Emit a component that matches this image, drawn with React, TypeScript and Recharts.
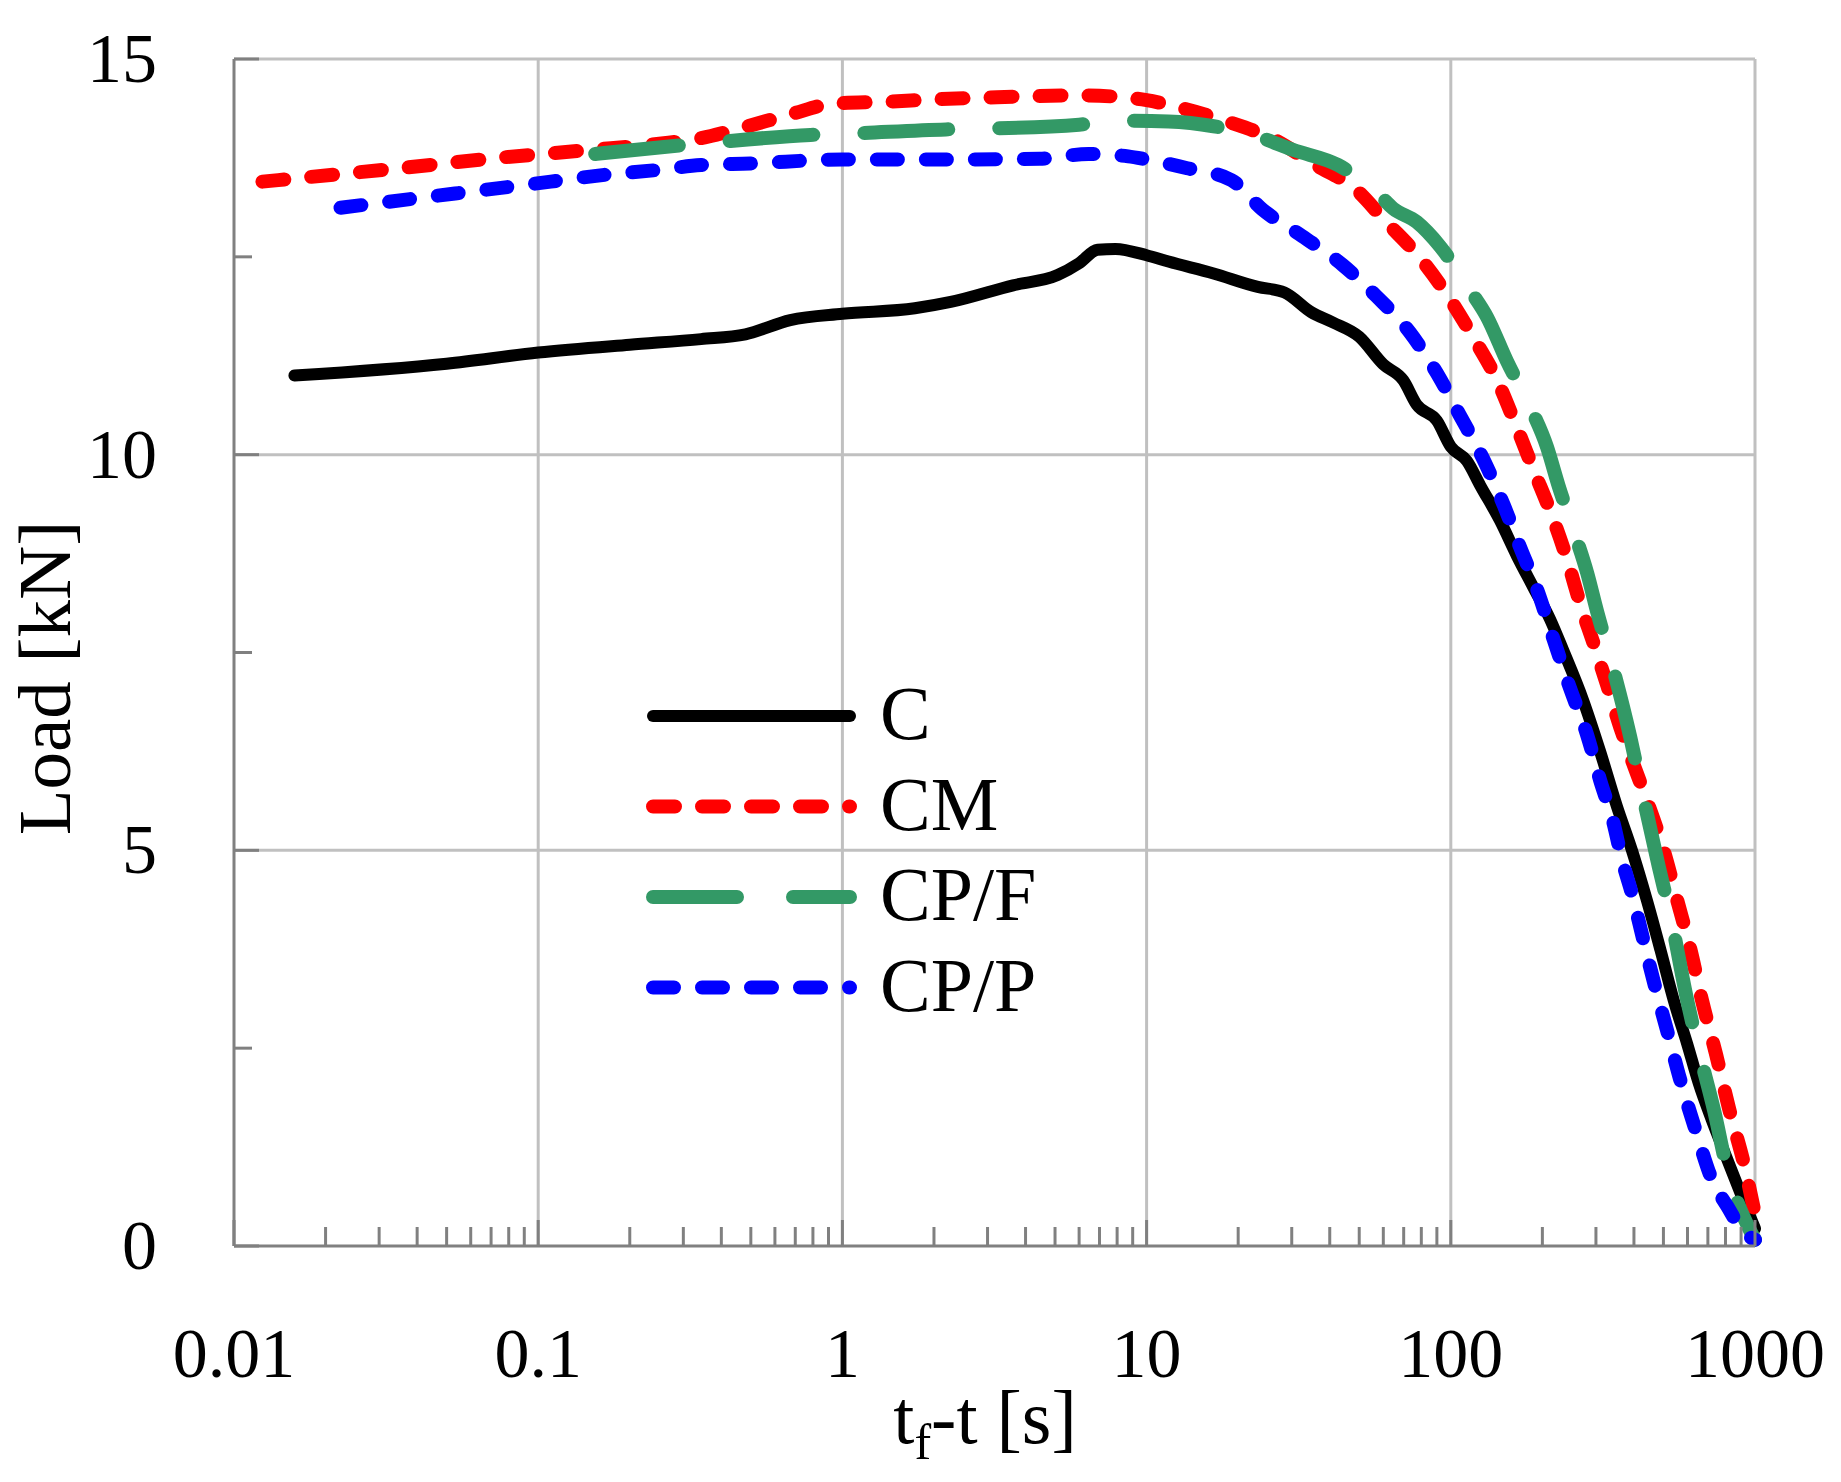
import React from 'react';
import { LineChart, Line, XAxis, YAxis, ReferenceLine, Legend } from 'recharts';

const FONT = '"Liberation Serif", "DejaVu Serif", serif';
const AXIS_GRAY = '#808080';
const GRID_GRAY = '#c0c0c0';

// layout of the plot area (px)
const W = 1841;
const H = 1482;
const PLOT_LEFT = 234;
const PLOT_TOP = 59;
const PLOT_RIGHT = 1755;
const PLOT_BOTTOM = 1246;

// axis ticks
const xMajorTicks = [0.01, 0.1, 1, 10, 100, 1000];
const xMinorTicks = xMajorTicks
  .slice(0, -1)
  .flatMap((d) => [2, 3, 4, 5, 6, 7, 8, 9].map((k) => +(k * d).toPrecision(3)));
const yMajorTicks = [0, 5, 10, 15];
const yMinorTicks = [2.5, 7.5, 12.5];

const seriesNames = ['C', 'CM', 'CP/F', 'CP/P'];

// tf - t [s] and load [kN]
const timeC = [0.0158, 0.05, 0.1, 0.2, 0.343, 0.48, 0.674, 1, 1.73, 2.27, 3.64, 5.1, 6.0, 6.9, 7.9, 10, 11.8, 16.6, 23.2, 28.4, 34.8, 41, 50, 60, 69.8, 77.3, 90, 100, 113, 125, 145, 165, 187, 212, 234, 272, 309, 352, 394, 441, 489, 541, 599, 654, 720, 800, 900, 1000];
const loadC = [11.0, 11.15, 11.29, 11.39, 11.46, 11.52, 11.7, 11.78, 11.85, 11.93, 12.14, 12.27, 12.42, 12.59, 12.6, 12.52, 12.44, 12.29, 12.12, 12.05, 11.8, 11.67, 11.49, 11.14, 10.94, 10.63, 10.43, 10.1, 9.92, 9.61, 9.17, 8.72, 8.32, 7.92, 7.53, 6.9, 6.26, 5.55, 5.0, 4.37, 3.74, 3.1, 2.55, 2.05, 1.6, 1.15, 0.65, 0.22];

const timeCM = [0.0124, 0.0168, 0.035, 0.0735, 0.147, 0.25, 0.343, 0.466, 0.674, 0.944, 1.42, 1.98, 2.87, 4.16, 6.0, 8.7, 10, 12.7, 18.4, 25.7, 36, 48.8, 61, 79, 98, 119, 142, 163, 187, 215, 241, 267, 295, 327, 361, 394, 441, 501, 555, 614, 670, 745, 820, 925, 1000];
const loadCM = [13.45, 13.5, 13.62, 13.75, 13.85, 13.93, 14.0, 14.13, 14.3, 14.44, 14.46, 14.49, 14.51, 14.53, 14.54, 14.51, 14.48, 14.39, 14.21, 14.0, 13.66, 13.35, 12.95, 12.49, 12.0, 11.47, 10.94, 10.39, 9.81, 9.23, 8.68, 8.1, 7.61, 7.08, 6.55, 6.14, 5.63, 5.0, 4.37, 3.74, 3.1, 2.42, 1.75, 1.0, 0.4];

const timeCPF = [0.154, 0.386, 0.785, 1.08, 2.19, 2.97, 6.0, 8.3, 11.8, 16.6, 23.2, 30.4, 42.6, 57.6, 64.7, 77.3, 92.3, 116, 131.5, 153, 183, 207, 226, 254, 281, 303, 335, 389, 420, 483, 528, 599, 646, 735, 812, 948, 1000];
const loadCPF = [13.8, 13.95, 14.04, 14.06, 14.11, 14.12, 14.17, 14.22, 14.21, 14.15, 14.02, 13.85, 13.66, 13.3, 13.11, 12.94, 12.63, 12.07, 11.74, 11.18, 10.59, 10.1, 9.61, 9.03, 8.5, 8.01, 7.42, 6.43, 5.84, 4.79, 4.16, 3.1, 2.55, 1.7, 0.95, 0.25, 0.08];

const timeCPP = [0.0224, 0.0533, 0.11, 0.16, 0.25, 0.343, 0.498, 1, 2.12, 4.45, 6.45, 8.7, 10, 13.6, 19, 24, 32.5, 44, 57, 73.5, 90, 107, 128, 149, 169, 192, 218, 246, 280, 310, 343, 365, 394, 430, 470, 516, 566, 642, 720, 811, 925, 1000];
const loadCPP = [13.12, 13.3, 13.45, 13.53, 13.6, 13.66, 13.68, 13.73, 13.73, 13.74, 13.8, 13.77, 13.73, 13.62, 13.47, 13.1, 12.76, 12.4, 12.0, 11.54, 11.03, 10.5, 9.94, 9.37, 8.83, 8.3, 7.66, 7.06, 6.47, 5.88, 5.34, 4.89, 4.45, 3.86, 3.27, 2.7, 2.12, 1.43, 0.85, 0.5, 0.16, 0.08];

const toPoints = (ts: number[], ls: number[]) => ts.map((t, i) => ({ t, load: ls[i] }));

const seriesData: Record<string, { t: number; load: number }[]> = {
  C: toPoints(timeC, loadC),
  CM: toPoints(timeCM, loadCM),
  'CP/F': toPoints(timeCPF, loadCPF),
  'CP/P': toPoints(timeCPP, loadCPP),
};

const seriesStyle: Record<string, { color: string; width: number; dash?: string; legendDash?: string }> = {
  C: { color: '#000000', width: 12 },
  CM: { color: '#ff0000', width: 14, dash: '22 27', legendDash: '22 27' },
  'CP/F': { color: '#339966', width: 14, dash: '84 51', legendDash: '84 56' },
  'CP/P': { color: '#0000ff', width: 14, dash: '21 28', legendDash: '21 28' },
};

const XTick = (props: any) => {
  const { x, y, payload } = props;
  const major = xMajorTicks.includes(payload.value);
  return (
    <g>
      <line x1={x} y1={y} x2={x} y2={y - (major ? 26 : 19)} stroke={AXIS_GRAY} strokeWidth={3} />
      {major && (
        <text x={x} y={y + 131} textAnchor="middle" fontFamily={FONT} fontSize={70} fill="#000">
          {String(payload.value)}
        </text>
      )}
    </g>
  );
};

const YTick = (props: any) => {
  const { x, y, payload } = props;
  const major = yMajorTicks.includes(payload.value);
  return (
    <g>
      <line x1={x} y1={y} x2={x + (major ? 25 : 18)} y2={y} stroke={AXIS_GRAY} strokeWidth={3} />
      {major && (
        <text x={x - 77} y={y + 23} textAnchor="end" fontFamily={FONT} fontSize={70} fill="#000">
          {String(payload.value)}
        </text>
      )}
    </g>
  );
};

const XTitle = () => (
  <text x={985} y={1443} textAnchor="middle" fontFamily={FONT} fontSize={76} fill="#000">
    <tspan>t</tspan>
    <tspan dy={16} fontSize={50}>f</tspan>
    <tspan dy={-16}>-t [s]</tspan>
  </text>
);

const YTitle = () => (
  <text
    x={70}
    y={678}
    transform="rotate(-90, 70, 678)"
    textAnchor="middle"
    fontFamily={FONT}
    fontSize={75}
    fill="#000"
  >
    Load [kN]
  </text>
);

const renderLegend = () => (
  <svg width={440} height={362} style={{ display: 'block' }}>
    {seriesNames.map((name, i) => {
      const s = seriesStyle[name];
      const cy = 45 + i * 90.5;
      return (
        <g key={name}>
          <line
            x1={7}
            y1={cy + 2}
            x2={204}
            y2={cy + 2}
            stroke={s.color}
            strokeWidth={s.width}
            strokeDasharray={s.legendDash}
            strokeLinecap="round"
          />
          <text x={234} y={cy + 25} fontFamily={FONT} fontSize={76} fill="#000">
            {name}
          </text>
        </g>
      );
    })}
  </svg>
);

export default function App() {
  return (
    <div style={{ position: 'absolute', left: 0, top: 0, width: W, height: H, background: '#fff' }}>
      <LineChart
        width={W}
        height={H}
        margin={{ top: PLOT_TOP, right: W - PLOT_RIGHT, bottom: 0, left: 0 }}
      >
        <XAxis
          dataKey="t"
          type="number"
          scale="log"
          domain={[0.01, 1000]}
          ticks={[...xMajorTicks, ...xMinorTicks]}
          interval={0}
          height={H - PLOT_BOTTOM}
          tickSize={0}
          tickMargin={0}
          tickLine={false}
          axisLine={{ stroke: AXIS_GRAY, strokeWidth: 3 }}
          tick={<XTick />}
          label={XTitle}
        />
        <YAxis
          type="number"
          domain={[0, 15]}
          ticks={[...yMajorTicks, ...yMinorTicks].sort((a, b) => a - b)}
          interval={0}
          width={PLOT_LEFT}
          tickSize={0}
          tickMargin={0}
          tickLine={false}
          axisLine={{ stroke: AXIS_GRAY, strokeWidth: 3 }}
          tick={<YTick />}
          label={YTitle}
        />
        {xMajorTicks.slice(1).map((v) => (
          <ReferenceLine key={`gx${v}`} x={v} stroke={GRID_GRAY} strokeWidth={3} />
        ))}
        {yMajorTicks.slice(1).map((v) => (
          <ReferenceLine key={`gy${v}`} y={v} stroke={GRID_GRAY} strokeWidth={3} />
        ))}
        {seriesNames.map((name) => {
          const s = seriesStyle[name];
          return (
            <Line
              key={name}
              name={name}
              data={seriesData[name]}
              dataKey="load"
              type="monotoneX"
              stroke={s.color}
              strokeWidth={s.width}
              strokeDasharray={s.dash}
              strokeLinecap="round"
              strokeLinejoin="round"
              dot={false}
              activeDot={false}
              isAnimationActive={false}
            />
          );
        })}
        <Legend
          layout="vertical"
          align="center"
          verticalAlign="middle"
          content={renderLegend}
          wrapperStyle={{ left: 646, top: 669, width: 440, height: 362 }}
        />
      </LineChart>
    </div>
  );
}
